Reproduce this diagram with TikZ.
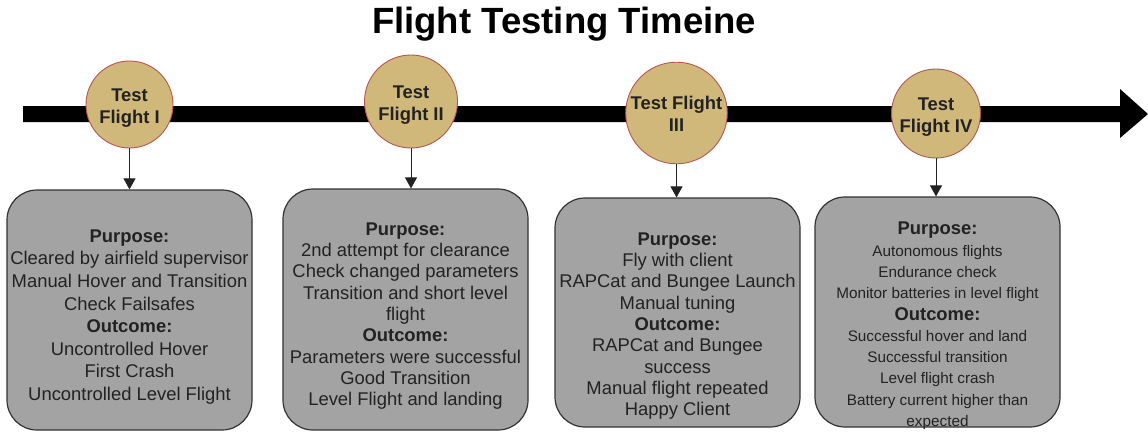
\documentclass[tikz,border=0pt]{standalone}
\usepackage{fontspec}
\setmainfont{Liberation Sans}
\usetikzlibrary{arrows.meta}
\definecolor{flightfill}{RGB}{208,184,122}
\definecolor{flightline}{RGB}{184,84,80}
\definecolor{notefill}{RGB}{163,163,163}
\definecolor{noteline}{RGB}{51,51,51}
\definecolor{ink}{RGB}{34,34,34}
\newcommand{\hd}[1]{{\fontsize{18.4}{21.3}\selectfont\bfseries #1}}
% two-line circle label, set a little below the geometric centre
\newcommand{\flightname}[2]{\raisebox{-3.5pt}[\height][\depth]{\begin{tabular}{@{}c@{}}#1\\#2\end{tabular}}}
\begin{document}
\begin{tikzpicture}[x=1pt,y=-1pt,
  flight/.style={circle, draw=flightline, fill=flightfill, line width=0.9pt,
    inner sep=0pt, text=ink,
    font=\fontsize{18.4}{22}\selectfont\bfseries},
  notebox/.style={draw=noteline, fill=notefill, line width=1.2pt,
    rounded corners=30pt, inner sep=0pt},
  notetext/.style={align=center, text=ink, inner sep=0pt,
    font=\fontsize{18.4}{21.3}\selectfont},
  smalltext/.style={align=center, text=ink, inner sep=0pt,
    font=\fontsize{15.3}{21.3}\selectfont},
  drop/.style={-{Triangle[length=11pt,width=12pt]}, line width=0.9pt, draw=ink, fill=ink}]
\useasboundingbox (0,0) rectangle (1148,431);

% title
\node[anchor=base, font=\fontsize{36.5}{42}\selectfont\bfseries, text=black, inner sep=0pt] (title) at (564,33) {Flight Testing Timeine};

% timeline bar with its arrow head
\coordinate (tlstart) at (23,114);
\coordinate (tlend) at (1148,114);
\fill[black] (23,106) -- (1120,106) -- (1120,89) -- (tlend) -- (1120,138) -- (1120,122) -- (23,122) -- cycle;

% flights on the timeline
\node[flight, minimum size=87pt]  (c1) at (129.5,104.5) {\flightname{Test}{Flight I}};
\node[flight, minimum size=93pt]  (c2) at (411,101.5)   {\flightname{Test}{Flight II}};
\node[flight, minimum size=101pt] (c3) at (676.5,113)   {\flightname{Test Flight}{III}};
\node[flight, minimum size=89pt]  (c4) at (936,113.5)   {\flightname{Test}{Flight IV}};

% summary boxes
\node[notebox, minimum width=245pt, minimum height=240pt] (b1) at (129.5,310) {};
\node[notebox, minimum width=245pt, minimum height=241pt] (b2) at (405.5,309.5) {};
\node[notebox, minimum width=245pt, minimum height=229pt] (b3) at (677.5,312.5) {};
\node[notebox, minimum width=245pt, minimum height=230pt] (b4) at (937.5,312) {};

\node[notetext, font=\fontsize{18.4}{22.6}\selectfont] (t1) at (129.5,317) {\textbf{Purpose:}\\Cleared by airfield supervisor\\Manual Hover and Transition\\Check Failsafes\\\textbf{Outcome:}\\Uncontrolled Hover\\First Crash\\Uncontrolled Level Flight};
\node[notetext] (t2) at (405.5,316) {\textbf{Purpose:}\\2nd attempt for clearance\\Check changed parameters\\Transition and short level\\flight\\\textbf{Outcome:}\\Parameters were successful\\Good Transition\\Level Flight and landing};
\node[notetext] (t3) at (677.5,326) {\textbf{Purpose:}\\Fly with client\\RAPCat and Bungee Launch\\Manual tuning\\\textbf{Outcome:}\\RAPCat and Bungee\\success\\Manual flight repeated\\Happy Client};
\node[smalltext] (t4) at (937.5,326) {\hd{Purpose:}\\Autonomous flights\\Endurance check\\Monitor batteries in level flight\\\hd{Outcome:}\\Successful hover and land\\Successful transition\\Level flight crash\\Battery current higher than\\expected};

% connectors
\draw[drop] (c1.south) -- (c1.south |- b1.north);
\draw[drop] (c2.south) -- (c2.south |- b2.north);
\draw[drop] (c3.south) -- (c3.south |- b3.north);
\draw[drop] (c4.south) -- (c4.south |- b4.north);
\end{tikzpicture}
\end{document}
